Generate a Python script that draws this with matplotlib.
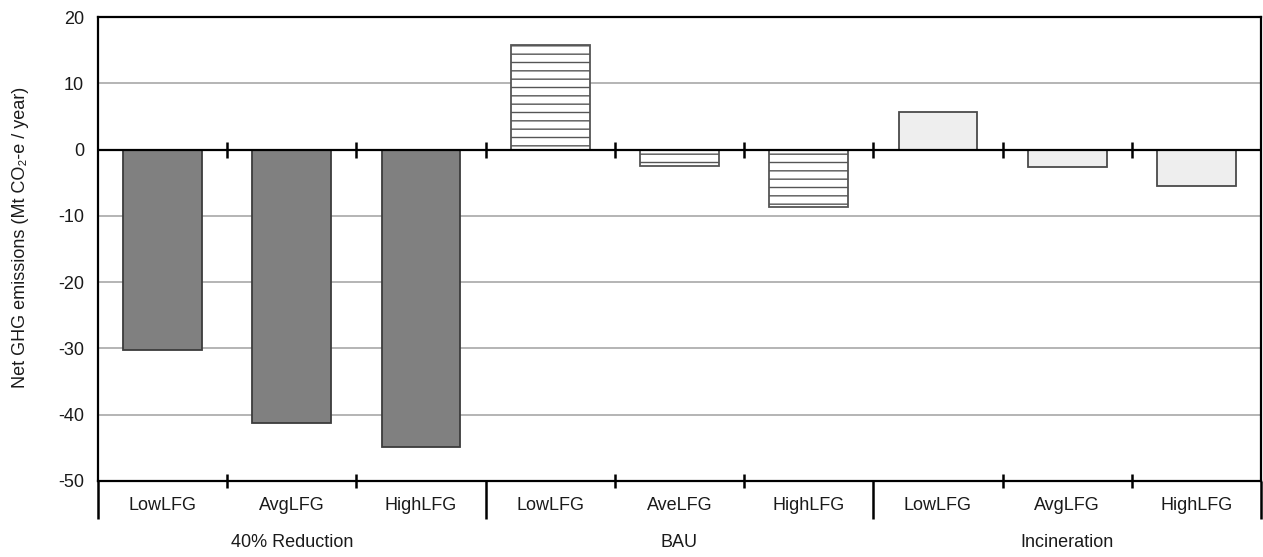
import matplotlib.pyplot as plt
from matplotlib.ticker import FixedLocator

plt.rcParams['font.family'] = ['Liberation Sans', 'DejaVu Sans']
plt.rcParams['hatch.linewidth'] = 1.0
plt.rcParams['axes.unicode_minus'] = False

# chart data
groups = ['40% Reduction', 'BAU', 'Incineration']
categories = ['LowLFG', 'AvgLFG', 'HighLFG',
              'LowLFG', 'AveLFG', 'HighLFG',
              'LowLFG', 'AvgLFG', 'HighLFG']
reduction_40 = [-30.3, -41.2, -44.8]
bau = [15.8, -2.5, -8.6]
incineration = [5.6, -2.7, -5.5]
y_ticks = [-50, -40, -30, -20, -10, 0, 10, 20]

series = [reduction_40, bau, incineration]
styles = [
    dict(facecolor='#808080', edgecolor='#3c3c3c', hatch=None),
    dict(facecolor='white', edgecolor='#555555', hatch='--'),
    dict(facecolor='#eeeeee', edgecolor='#4a4a4a', hatch=None),
]
text_color = '#1a1a1a'
fs = 13

fig = plt.figure(figsize=(12.63, 5.57), dpi=100)
ax = fig.add_axes([98 / 1263, 76 / 557, 1163 / 1263, 464 / 557])

n_per_group = len(categories) // len(groups)
for g, (vals, st) in enumerate(zip(series, styles)):
    xs = [g * n_per_group + i for i in range(len(vals))]
    ax.bar(xs, vals, width=0.61, linewidth=1.3, zorder=3, **st)

ax.set_xlim(-0.5, len(categories) - 0.5)
ax.set_ylim(y_ticks[0], y_ticks[-1])

# gridlines (skip top/bottom, zero drawn separately)
for y in y_ticks[1:-1]:
    if y != 0:
        ax.axhline(y, color='#a8a8a8', lw=1.2, zorder=1)
ax.axhline(0, color='black', lw=1.6, zorder=4)

# small crossing ticks on the zero line at category boundaries
bounds = [i + 0.5 for i in range(len(categories) - 1)]
ax.plot(bounds, [0] * len(bounds), ls='none', marker='|', ms=11,
        mew=1.8, color='black', zorder=5)

for s in ax.spines.values():
    s.set_color('black')
    s.set_linewidth(1.6)

ax.set_yticks(y_ticks)
ax.tick_params(axis='y', length=0, pad=10, labelsize=fs, labelcolor=text_color)

# bottom axis: short ticks at category boundaries, long ones at group edges
group_edges = [g * n_per_group - 0.5 for g in range(len(groups) + 1)]
ax.xaxis.set_major_locator(FixedLocator(group_edges))
ax.xaxis.set_minor_locator(FixedLocator(bounds))
ax.tick_params(axis='x', which='major', direction='out', length=27,
               width=1.8, color='black', labelbottom=False)
ax.tick_params(axis='x', which='minor', direction='inout', length=10,
               width=1.8, color='black')

for i, lab in enumerate(categories):
    ax.annotate(lab, xy=(i, 0), xycoords=('data', 'axes fraction'),
                xytext=(0, -17.5), textcoords='offset points',
                ha='center', va='center', fontsize=fs, color=text_color)
for g, lab in enumerate(groups):
    ax.annotate(lab, xy=(g * n_per_group + (n_per_group - 1) / 2, 0),
                xycoords=('data', 'axes fraction'),
                xytext=(0, -44.5), textcoords='offset points',
                ha='center', va='center', fontsize=fs, color=text_color)

ax.set_ylabel('Net GHG emissions (Mt CO\u2082-e / year)', fontsize=fs,
              color=text_color)
ax.yaxis.set_label_coords(-69 / 1163, 0.526)

fig.savefig('out.png', dpi=100)
